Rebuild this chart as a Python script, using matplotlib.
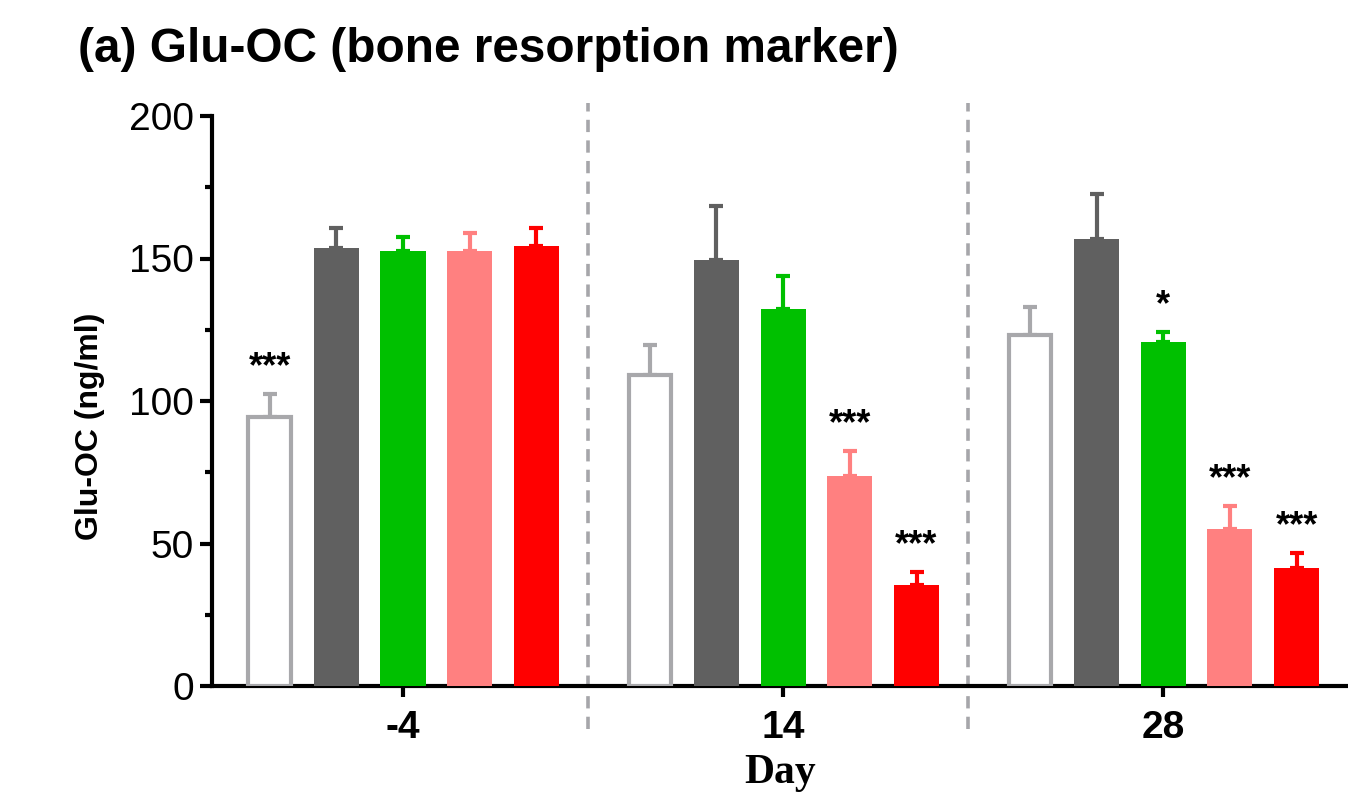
import matplotlib
matplotlib.use("Agg")
import matplotlib.pyplot as plt
from matplotlib.lines import Line2D
import numpy as np

# Glu-OC serum levels (ng/ml), mean and upper SEM, per day and treatment group
days = ["-4", "14", "28"]
group_colors = ["#ffffff", "#606060", "#00c000", "#ff8080", "#ff0000"]
group_edges = ["#a8a8ab", "#606060", "#00c000", "#ff8080", "#ff0000"]

means_day_m4 = [94.5, 153.6, 152.6, 152.6, 154.4]
means_day_14 = [109.1, 149.5, 132.2, 73.7, 35.4]
means_day_28 = [123.2, 156.7, 120.8, 55.0, 41.3]

sem_day_m4 = [8.0, 7.2, 5.1, 6.5, 6.4]
sem_day_14 = [10.5, 18.9, 11.7, 8.9, 4.5]
sem_day_28 = [9.9, 15.9, 3.5, 8.2, 5.3]

sig_day_m4 = ["***", "", "", "", ""]
sig_day_14 = ["", "", "", "***", "***"]
sig_day_28 = ["", "", "*", "***", "***"]

means = [means_day_m4, means_day_14, means_day_28]
sems = [sem_day_m4, sem_day_14, sem_day_28]
sigs = [sig_day_m4, sig_day_14, sig_day_28]

sans = ["Liberation Sans", "DejaVu Sans"]
plt.rcParams["font.family"] = sans

fig = plt.figure(figsize=(13.48, 7.96), dpi=100)
ax = fig.add_axes([212 / 1348, 1 - 686 / 796, 1 - 212 / 1348, (686 - 116) / 796])

n_groups = len(group_colors)
group_step = 5.7
bar_w = 0.675
centers = []
for gi, (m, s, sg) in enumerate(zip(means, sems, sigs)):
    x = np.arange(n_groups) + gi * group_step
    centers.append(x.mean())
    for xi, mi, si, ti, fc, ec in zip(x, m, s, sg, group_colors, group_edges):
        if fc == "#ffffff":
            ax.bar(xi, mi, width=bar_w - 0.04, color=fc, edgecolor=ec,
                   linewidth=3, zorder=3)
        else:
            ax.bar(xi, mi, width=bar_w, color=fc, linewidth=0, zorder=3)
        ax.errorbar(xi, mi, yerr=[[0], [si]], fmt="none", ecolor=ec,
                    elinewidth=3, capsize=5, capthick=3, zorder=2)
        if ti:
            ax.annotate(ti, xy=(xi, mi + si), xytext=(0, 12),
                        textcoords="offset points", ha="center",
                        va="baseline", fontsize=26, fontweight="bold")

# dashed separators between days
for gi in range(len(days) - 1):
    xs = (centers[gi] + centers[gi + 1]) / 2 - 0.075
    line = Line2D([xs, xs], [-15.2, 204.5], color="#a6a6aa", lw=2.6,
                  ls=(0, (3.4, 2.3)), clip_on=False, zorder=1,
                  transform=ax.transData)
    ax.add_line(line)

ax.set_xlim(-0.864, 16.17)
ax.set_ylim(0, 200)
ax.spines["top"].set_visible(False)
ax.spines["right"].set_visible(False)
for sp in ("left", "bottom"):
    ax.spines[sp].set_linewidth(3)
ax.set_yticks([0, 50, 100, 150, 200])
ax.set_yticks([25, 75, 125, 175], minor=True)
ax.tick_params(axis="y", which="major", length=9, width=3, labelsize=28, pad=4)
ax.tick_params(axis="y", which="minor", length=5, width=3)
ax.set_xticks(centers)
ax.set_xticklabels(days, fontsize=28, fontweight="bold")
ax.tick_params(axis="x", which="major", length=8, width=3, pad=9)

ax.set_ylabel("Glu-OC (ng/ml)", fontsize=23, fontweight="bold")
ax.yaxis.set_label_coords(-0.094, 0.456)
ax.set_xlabel("Day", fontsize=30, fontweight="bold",
              family=["Liberation Serif", "DejaVu Serif"], labelpad=6)

fig.text(78 / 1348, 1 - 62 / 796, "(a) Glu-OC (bone resorption marker)",
         fontsize=34.4, fontweight="bold", ha="left", va="baseline")

fig.savefig("out.png", dpi=100)
